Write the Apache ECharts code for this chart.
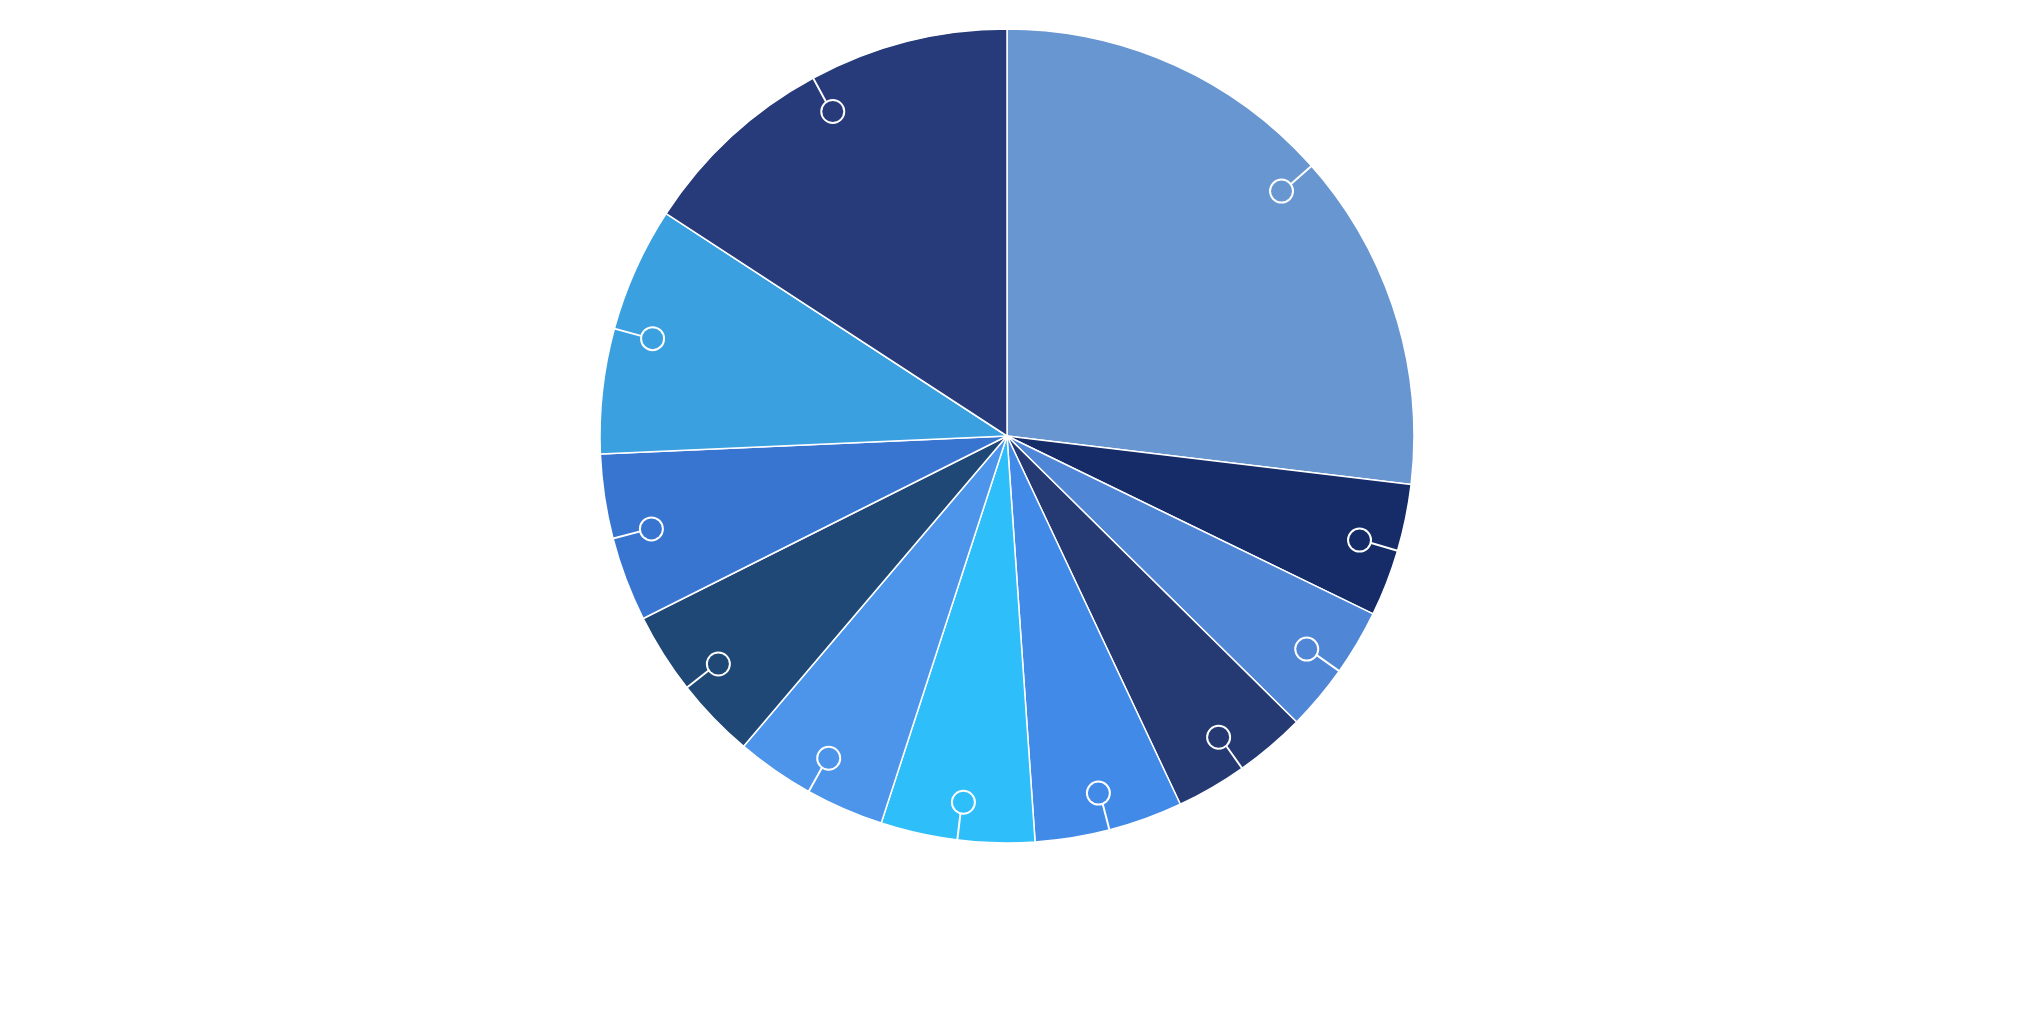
<!DOCTYPE html>
<html>
<head>
    <meta charset="utf-8">
    <title>Pie</title>
    <script src="https://cdn.jsdelivr.net/npm/echarts@6/dist/echarts.min.js"></script>
    <style>
        * {
            margin: 0;
            padding: 0
        }

        html, body {
            width: 100%;
            height: 100%;
            background: #fff;
        }

        #main {
            width: 2026px;
            height: 1031px;
        }
    </style>
</head>
<body>
<div id="main"></div>
<script type="text/javascript">
    // 数据 (顺时针, 从12点开始)
    var names = ['A', 'B', 'C', 'D', 'E', 'F', 'G', 'H', 'I', 'J', 'K'];
    var values = [26.9, 5.3, 5.2, 5.6, 5.9, 6.1, 6.2, 6.4, 6.7, 9.9, 15.8];
    var colors = ['#6896d0', '#152c69', '#5086d6', '#253973', '#418ae8', '#2ebefa',
        '#4d95ea', '#1f4877', '#3775d0', '#3aa0e0', '#273b7a'];

    // 扇区
    var sliceData = names.map(function (name, i) {
        return {name: name, value: values[i], itemStyle: {color: colors[i]}};
    });
    // 标注圆圈 (透明扇区, 只画引导线和圆圈)
    var markerData = names.map(function (name, i) {
        return {
            name: name,
            value: values[i],
            label: {rich: {o: {backgroundColor: colors[i]}}}
        };
    });

    var myChart = echarts.init(document.getElementById('main'));
    myChart.setOption({
        animation: false,
        series: [
            {
                type: 'pie',
                z: 2,
                center: [1007, 436],
                radius: 407,
                startAngle: 90,
                clockwise: true,
                itemStyle: {
                    borderColor: '#fff',
                    borderWidth: 1.5
                },
                label: {show: false},
                labelLine: {show: false},
                emphasis: {disabled: true},
                data: sliceData
            },
            {
                // 引导线画在上一层, 不然会被扇区盖住
                type: 'pie',
                z: 5,
                center: [1007, 436],
                radius: 407,
                startAngle: 90,
                clockwise: true,
                silent: true,
                avoidLabelOverlap: false,
                itemStyle: {
                    color: 'rgba(0,0,0,0)',
                    borderWidth: 0
                },
                label: {
                    show: true,
                    position: 'outside',
                    formatter: '{o|}',
                    distanceToLabelLine: -12,
                    rich: {
                        o: {
                            width: 21,
                            height: 21,
                            borderRadius: 12,
                            borderWidth: 2,
                            borderColor: '#fff'
                        }
                    }
                },
                labelLine: {
                    show: true,
                    showAbove: true,
                    length: -38,
                    length2: 0,
                    smooth: false,
                    minTurnAngle: 0,
                    maxSurfaceAngle: 0,
                    lineStyle: {
                        color: '#fff',
                        width: 2
                    }
                },
                emphasis: {disabled: true},
                data: markerData
            }
        ]
    });
</script>
</body>
</html>
